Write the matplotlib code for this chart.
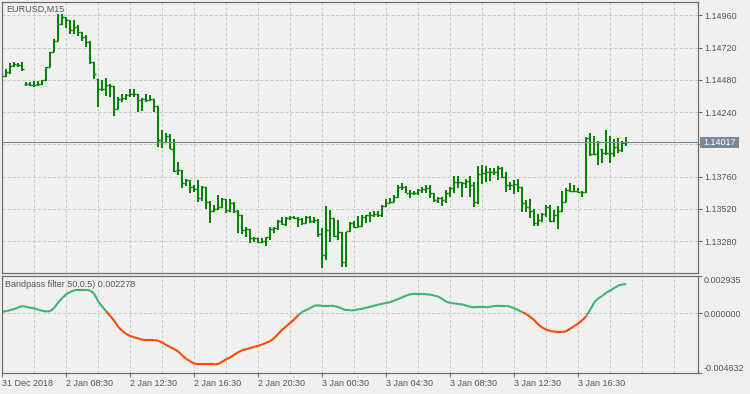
import numpy as np
import matplotlib
matplotlib.use("Agg")
import matplotlib.pyplot as plt
from matplotlib.collections import LineCollection
from matplotlib.patches import Rectangle

# EURUSD M15 bars, left to right
opens = [1.14516, 1.14511, 1.14538, 1.14590, 1.14590, 1.14590, 1.14449, 1.14449, 1.14445, 1.14449,
         1.14449, 1.14479, 1.14576, 1.14687, 1.14771, 1.14895, 1.14945, 1.14925, 1.14851, 1.14873,
         1.14834, 1.14801, 1.14759, 1.14615, 1.14486, 1.14410, 1.14412, 1.14442, 1.14434, 1.14263,
         1.14337, 1.14347, 1.14367, 1.14372, 1.14372, 1.14330, 1.14337, 1.14330, 1.14337, 1.14285,
         1.14032, 1.14020, 1.14062, 1.13963, 1.13809, 1.13809, 1.13715, 1.13735, 1.13681, 1.13666,
         1.13599, 1.13683, 1.13573, 1.13506, 1.13517, 1.13532, 1.13593, 1.13512, 1.13566, 1.13506,
         1.13474, 1.13363, 1.13368, 1.13301, 1.13301, 1.13276, 1.13281, 1.13309, 1.13368, 1.13375,
         1.13432, 1.13405, 1.13450, 1.13457, 1.13450, 1.13442, 1.13413, 1.13457, 1.13432, 1.13437,
         1.13333, 1.13177, 1.13363, 1.13450, 1.13318, 1.13350, 1.13123, 1.13358, 1.13417, 1.13383,
         1.13393, 1.13462, 1.13474, 1.13474, 1.13480, 1.13474, 1.13544, 1.13566, 1.13573, 1.13611,
         1.13681, 1.13681, 1.13640, 1.13640, 1.13636, 1.13660, 1.13666, 1.13673, 1.13640, 1.13586,
         1.13603, 1.13586, 1.13636, 1.13673, 1.13722, 1.13722, 1.13715, 1.13730, 1.13698, 1.13573,
         1.13777, 1.13785, 1.13797, 1.13797, 1.13797, 1.13822, 1.13759, 1.13698, 1.13698, 1.13705,
         1.13681, 1.13561, 1.13532, 1.13506, 1.13413, 1.13437, 1.13482, 1.13532, 1.13432, 1.13474,
         1.13506, 1.13573, 1.13660, 1.13655, 1.13655, 1.13648, 1.13648, 1.14045, 1.13928, 1.13928,
         1.13963, 1.13933, 1.13938, 1.13933, 1.13983, 1.13958, 1.14012]
highs = [1.14538, 1.14561, 1.14603, 1.14611, 1.14603, 1.14611, 1.14466, 1.14466, 1.14474, 1.14471,
         1.14481, 1.14578, 1.14689, 1.14784, 1.14970, 1.14970, 1.14945, 1.14925, 1.14925, 1.14888,
         1.14834, 1.14814, 1.14771, 1.14615, 1.14486, 1.14479, 1.14491, 1.14447, 1.14434, 1.14355,
         1.14372, 1.14372, 1.14410, 1.14410, 1.14372, 1.14347, 1.14372, 1.14367, 1.14337, 1.14285,
         1.14107, 1.14082, 1.14077, 1.14038, 1.13867, 1.13809, 1.13740, 1.13735, 1.13698, 1.13735,
         1.13690, 1.13685, 1.13579, 1.13549, 1.13623, 1.13599, 1.13593, 1.13591, 1.13573, 1.13512,
         1.13474, 1.13387, 1.13368, 1.13309, 1.13301, 1.13301, 1.13313, 1.13387, 1.13383, 1.13437,
         1.13457, 1.13457, 1.13467, 1.13467, 1.13457, 1.13450, 1.13467, 1.13467, 1.13457, 1.13442,
         1.13375, 1.13541, 1.13512, 1.13450, 1.13437, 1.13350, 1.13350, 1.13425, 1.13430, 1.13467,
         1.13474, 1.13474, 1.13499, 1.13506, 1.13504, 1.13549, 1.13591, 1.13599, 1.13623, 1.13698,
         1.13710, 1.13690, 1.13660, 1.13655, 1.13666, 1.13681, 1.13698, 1.13698, 1.13640, 1.13611,
         1.13611, 1.13660, 1.13681, 1.13765, 1.13765, 1.13722, 1.13740, 1.13765, 1.13722, 1.13839,
         1.13846, 1.13839, 1.13822, 1.13822, 1.13839, 1.13829, 1.13797, 1.13722, 1.13735, 1.13740,
         1.13685, 1.13586, 1.13591, 1.13517, 1.13482, 1.13487, 1.13549, 1.13549, 1.13512, 1.13541,
         1.13655, 1.13673, 1.13710, 1.13698, 1.13673, 1.13655, 1.14053, 1.14082, 1.14062, 1.14027,
         1.13963, 1.14107, 1.14062, 1.14038, 1.14045, 1.14027, 1.14053]
lows = [1.14501, 1.14501, 1.14523, 1.14578, 1.14578, 1.14548, 1.14434, 1.14434, 1.14425, 1.14436,
        1.14442, 1.14474, 1.14573, 1.14685, 1.14769, 1.14888, 1.14863, 1.14821, 1.14821, 1.14808,
        1.14771, 1.14727, 1.14598, 1.14486, 1.14280, 1.14399, 1.14362, 1.14355, 1.14213, 1.14263,
        1.14313, 1.14330, 1.14350, 1.14355, 1.14243, 1.14250, 1.14317, 1.14325, 1.14239, 1.13980,
        1.13971, 1.14020, 1.13963, 1.13797, 1.13772, 1.13673, 1.13690, 1.13636, 1.13648, 1.13573,
        1.13581, 1.13517, 1.13413, 1.13499, 1.13512, 1.13524, 1.13492, 1.13499, 1.13492, 1.13343,
        1.13331, 1.13309, 1.13264, 1.13276, 1.13268, 1.13264, 1.13246, 1.13288, 1.13343, 1.13363,
        1.13400, 1.13393, 1.13437, 1.13442, 1.13387, 1.13400, 1.13413, 1.13417, 1.13413, 1.13313,
        1.13078, 1.13140, 1.13276, 1.13309, 1.13288, 1.13085, 1.13090, 1.13350, 1.13375, 1.13383,
        1.13387, 1.13413, 1.13425, 1.13462, 1.13462, 1.13462, 1.13536, 1.13561, 1.13573, 1.13599,
        1.13660, 1.13636, 1.13599, 1.13623, 1.13623, 1.13640, 1.13636, 1.13599, 1.13573, 1.13561,
        1.13541, 1.13561, 1.13611, 1.13636, 1.13678, 1.13611, 1.13678, 1.13611, 1.13532, 1.13554,
        1.13703, 1.13722, 1.13727, 1.13772, 1.13735, 1.13747, 1.13648, 1.13660, 1.13631, 1.13648,
        1.13499, 1.13499, 1.13450, 1.13393, 1.13393, 1.13425, 1.13462, 1.13425, 1.13425, 1.13368,
        1.13499, 1.13573, 1.13648, 1.13648, 1.13640, 1.13606, 1.13640, 1.13913, 1.13921, 1.13846,
        1.13864, 1.13921, 1.13864, 1.13904, 1.13938, 1.13945, 1.13988]
closes = [1.14511, 1.14536, 1.14583, 1.14596, 1.14590, 1.14558, 1.14449, 1.14445, 1.14442, 1.14449,
          1.14479, 1.14573, 1.14687, 1.14771, 1.14895, 1.14945, 1.14925, 1.14851, 1.14871, 1.14834,
          1.14801, 1.14759, 1.14615, 1.14523, 1.14410, 1.14410, 1.14442, 1.14436, 1.14263, 1.14337,
          1.14347, 1.14367, 1.14372, 1.14372, 1.14330, 1.14337, 1.14330, 1.14337, 1.14285, 1.14032,
          1.14020, 1.14062, 1.13963, 1.13804, 1.13809, 1.13715, 1.13735, 1.13681, 1.13666, 1.13599,
          1.13683, 1.13573, 1.13506, 1.13517, 1.13532, 1.13593, 1.13512, 1.13566, 1.13506, 1.13474,
          1.13363, 1.13368, 1.13301, 1.13301, 1.13276, 1.13281, 1.13309, 1.13368, 1.13375, 1.13432,
          1.13405, 1.13450, 1.13457, 1.13450, 1.13442, 1.13413, 1.13457, 1.13432, 1.13437, 1.13333,
          1.13177, 1.13363, 1.13450, 1.13318, 1.13350, 1.13123, 1.13358, 1.13417, 1.13383, 1.13393,
          1.13462, 1.13474, 1.13474, 1.13480, 1.13474, 1.13544, 1.13566, 1.13573, 1.13611, 1.13681,
          1.13681, 1.13640, 1.13640, 1.13636, 1.13660, 1.13666, 1.13673, 1.13640, 1.13586, 1.13603,
          1.13586, 1.13636, 1.13673, 1.13722, 1.13722, 1.13715, 1.13730, 1.13698, 1.13573, 1.13777,
          1.13785, 1.13797, 1.13797, 1.13797, 1.13822, 1.13759, 1.13698, 1.13698, 1.13705, 1.13681,
          1.13561, 1.13532, 1.13506, 1.13413, 1.13437, 1.13482, 1.13532, 1.13432, 1.13474, 1.13506,
          1.13573, 1.13660, 1.13655, 1.13655, 1.13648, 1.13648, 1.14045, 1.13928, 1.13928, 1.14020,
          1.13933, 1.13938, 1.13933, 1.13983, 1.13958, 1.14012, 1.14017]

# bandpass filter 50, 0.5
bandpass = [0.000121, 0.000173, 0.000252, 0.000331, 0.000462, 0.000567, 0.000515, 0.000436, 0.000384, 0.000278,
            0.000200, 0.000147, 0.000173, 0.000436, 0.000856, 0.001198, 0.001487, 0.001671, 0.001802, 0.001828,
            0.001828, 0.001828, 0.001776, 0.001513, 0.000909, 0.000515, 0.000147, -0.000221, -0.000588, -0.001061,
            -0.001377, -0.001613, -0.001771, -0.001876, -0.001954, -0.002060, -0.002086, -0.002086, -0.002086, -0.002138,
            -0.002270, -0.002480, -0.002637, -0.002795, -0.002979, -0.003294, -0.003557, -0.003741, -0.003925, -0.003977,
            -0.003977, -0.003977, -0.003977, -0.003977, -0.003951, -0.003767, -0.003583, -0.003452, -0.003215, -0.003032,
            -0.002874, -0.002795, -0.002716, -0.002611, -0.002532, -0.002427, -0.002296, -0.002165, -0.001928, -0.001587,
            -0.001271, -0.001009, -0.000746, -0.000457, -0.000142, 0.000121, 0.000252, 0.000410, 0.000594, 0.000620,
            0.000594, 0.000594, 0.000594, 0.000567, 0.000489, 0.000357, 0.000226, 0.000226, 0.000252, 0.000305,
            0.000357, 0.000436, 0.000515, 0.000594, 0.000673, 0.000751, 0.000804, 0.000883, 0.000988, 0.001119,
            0.001250, 0.001382, 0.001487, 0.001513, 0.001513, 0.001513, 0.001487, 0.001461, 0.001382, 0.001303,
            0.001119, 0.000909, 0.000804, 0.000778, 0.000725, 0.000699, 0.000594, 0.000515, 0.000462, 0.000462,
            0.000462, 0.000462, 0.000515, 0.000567, 0.000594, 0.000594, 0.000594, 0.000515, 0.000384, 0.000252,
            0.000095, -0.000063, -0.000273, -0.000536, -0.000877, -0.001114, -0.001271, -0.001377, -0.001429, -0.001455,
            -0.001455, -0.001403, -0.001193, -0.000982, -0.000799, -0.000536, -0.000221, 0.000305, 0.000856, 0.001172,
            0.001356, 0.001618, 0.001776, 0.001986, 0.002170, 0.002249, 0.002278]

price_ticks = [1.13280, 1.13520, 1.13760, 1.14000, 1.14240, 1.14480, 1.14720, 1.14960]
price_labels = ["1.13280", "1.13520", "1.13760", "", "1.14240", "1.14480", "1.14720", "1.14960"]
time_labels = ["31 Dec 2018", "2 Jan 08:30", "2 Jan 12:30", "2 Jan 16:30", "2 Jan 20:30",
               "3 Jan 00:30", "3 Jan 04:30", "3 Jan 08:30", "3 Jan 12:30", "3 Jan 16:30"]
last_price = 1.14017
band_min, band_max = -0.004632, 0.002935

BG = "#F0F0F0"
FRAME = "#6E6E6E"
TXT = "#555555"
GRID = "#C8C8C8"
BAR = "#008000"
plt.rcParams["font.family"] = ["Liberation Sans", "DejaVu Sans"]
FS = 6.5

W, H = 750, 394
fig = plt.figure(figsize=(W / 100, H / 100), dpi=100, facecolor=BG)


def px_axes(l, t, r, b):
    return fig.add_axes([l / W, 1 - b / H, (r - l) / W, (b - t) / H])


ax = px_axes(2.3, 2.3, 697.7, 273.3)
ax2 = px_axes(2.3, 275.7, 697.7, 372.7)
xmax = (697.7 - 2.3) / 4.0

for a in (ax, ax2):
    a.set_facecolor(BG)
    for s in a.spines.values():
        s.set_color(FRAME)
        s.set_linewidth(0.9)
    a.set_xlim(0, xmax)
    a.yaxis.tick_right()
    a.tick_params(axis="y", direction="out", length=3, width=0.8, color=FRAME,
                  labelsize=FS, labelcolor=TXT, pad=1.5)
    a.set_xticks(np.arange(0, xmax, 8), minor=True)
    a.set_xticks(np.arange(0, 16 * len(time_labels), 16))
    a.grid(True, which="both", axis="x", color=GRID, ls=(0, (3, 2.2)), lw=0.7)
    a.grid(True, axis="y", color=GRID, ls=(0, (3, 2.2)), lw=0.7)
    a.set_axisbelow(True)

# price pane
x = np.arange(len(closes))
ax.vlines(x, lows, highs, color=BAR, lw=1.4)
ax.hlines(opens, x - 0.5, x, color=BAR, lw=1.0)
ax.hlines(closes, x, x + 0.5, color=BAR, lw=1.0)
ax.set_ylim(1.13040, 1.15057)
ax.set_yticks(price_ticks)
ax.set_yticklabels(price_labels)
ax.tick_params(axis="x", which="both", length=0, labelbottom=False)
ax.axhline(last_price, color="#778899", lw=0.8)
fig.patches.append(Rectangle((700 / W, 1 - 148 / H), 39.3 / W, 10.7 / H,
                             transform=fig.transFigure, fc="#778899", ec="none"))
fig.text(703.5 / W, 1 - 142.8 / H, "1.14017", color="white", fontsize=FS,
         ha="left", va="center")
fig.text(6 / W, 1 - 9 / H, "EURUSD,M15", color=TXT, fontsize=FS, ha="left", va="center")

# indicator pane
band = np.array(bandpass)
segs = [[(i - 1, band[i - 1]), (i, band[i])] for i in range(1, len(band))]
cols = ["#3CB371" if v >= 0 else "#FF4500" for v in band[1:]]
ax2.add_collection(LineCollection(segs, colors=cols, linewidths=1.5))
ax2.set_ylim(band_min, band_max)
ax2.set_yticks([band_min, 0.0, band_max])
ax2.set_yticklabels(["-0.004632", "0.000000", "0.002935"])
lbls = ax2.get_yticklabels()
lbls[0].set_va("bottom")
lbls[2].set_va("top")
ax2.set_xticklabels(time_labels)
ax2.tick_params(axis="x", which="major", direction="out", length=3, width=0.8,
                color=FRAME, labelsize=FS, labelcolor=TXT, pad=1.5)
ax2.tick_params(axis="x", which="minor", length=0)
for lb in ax2.get_xticklabels():
    lb.set_ha("left")
fig.text(5 / W, 1 - 284.5 / H, "Bandpass filter 50,0.5) 0.002278", color=TXT,
         fontsize=FS, ha="left", va="center")

fig.savefig("out.png", dpi=100, facecolor=BG)
